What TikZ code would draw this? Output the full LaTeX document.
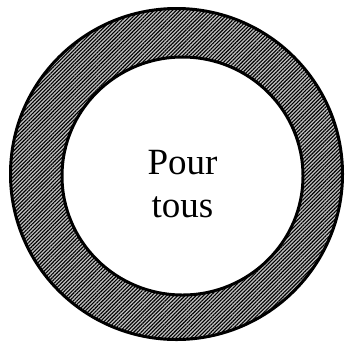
\documentclass[tikz,border=0pt]{standalone}
\usepackage{fontspec}
\setmainfont{Liberation Serif}
\usetikzlibrary{patterns.meta}
\begin{document}
\begin{tikzpicture}[x=1pt,y=1pt,
  ringline/.style={draw=black,line width=3pt},
  ringfill/.style={fill=black!25,even odd rule},
  ringhatch/.style={pattern={Lines[angle=45,distance=2.6pt,line width=1.1pt]},pattern color=black,even odd rule},
  label/.style={align=center,font=\fontsize{37}{43}\selectfont,inner sep=0pt}]
\useasboundingbox (0,0) rectangle (352,-341);
\fill[ringfill] (176.5,-174) ellipse [x radius=166,y radius=165.5]
                (182.5,-176) ellipse [x radius=120.5,y radius=119];
\fill[ringhatch] (176.5,-174) ellipse [x radius=166,y radius=165.5]
                (182.5,-176) ellipse [x radius=120.5,y radius=119];
\draw[ringline] (176.5,-174) ellipse [x radius=166,y radius=165.5];
\draw[ringline] (182.5,-176) ellipse [x radius=120.5,y radius=119];
\node[label] (txt) at (182.5,-184) {Pour\\tous};
\end{tikzpicture}
\end{document}
